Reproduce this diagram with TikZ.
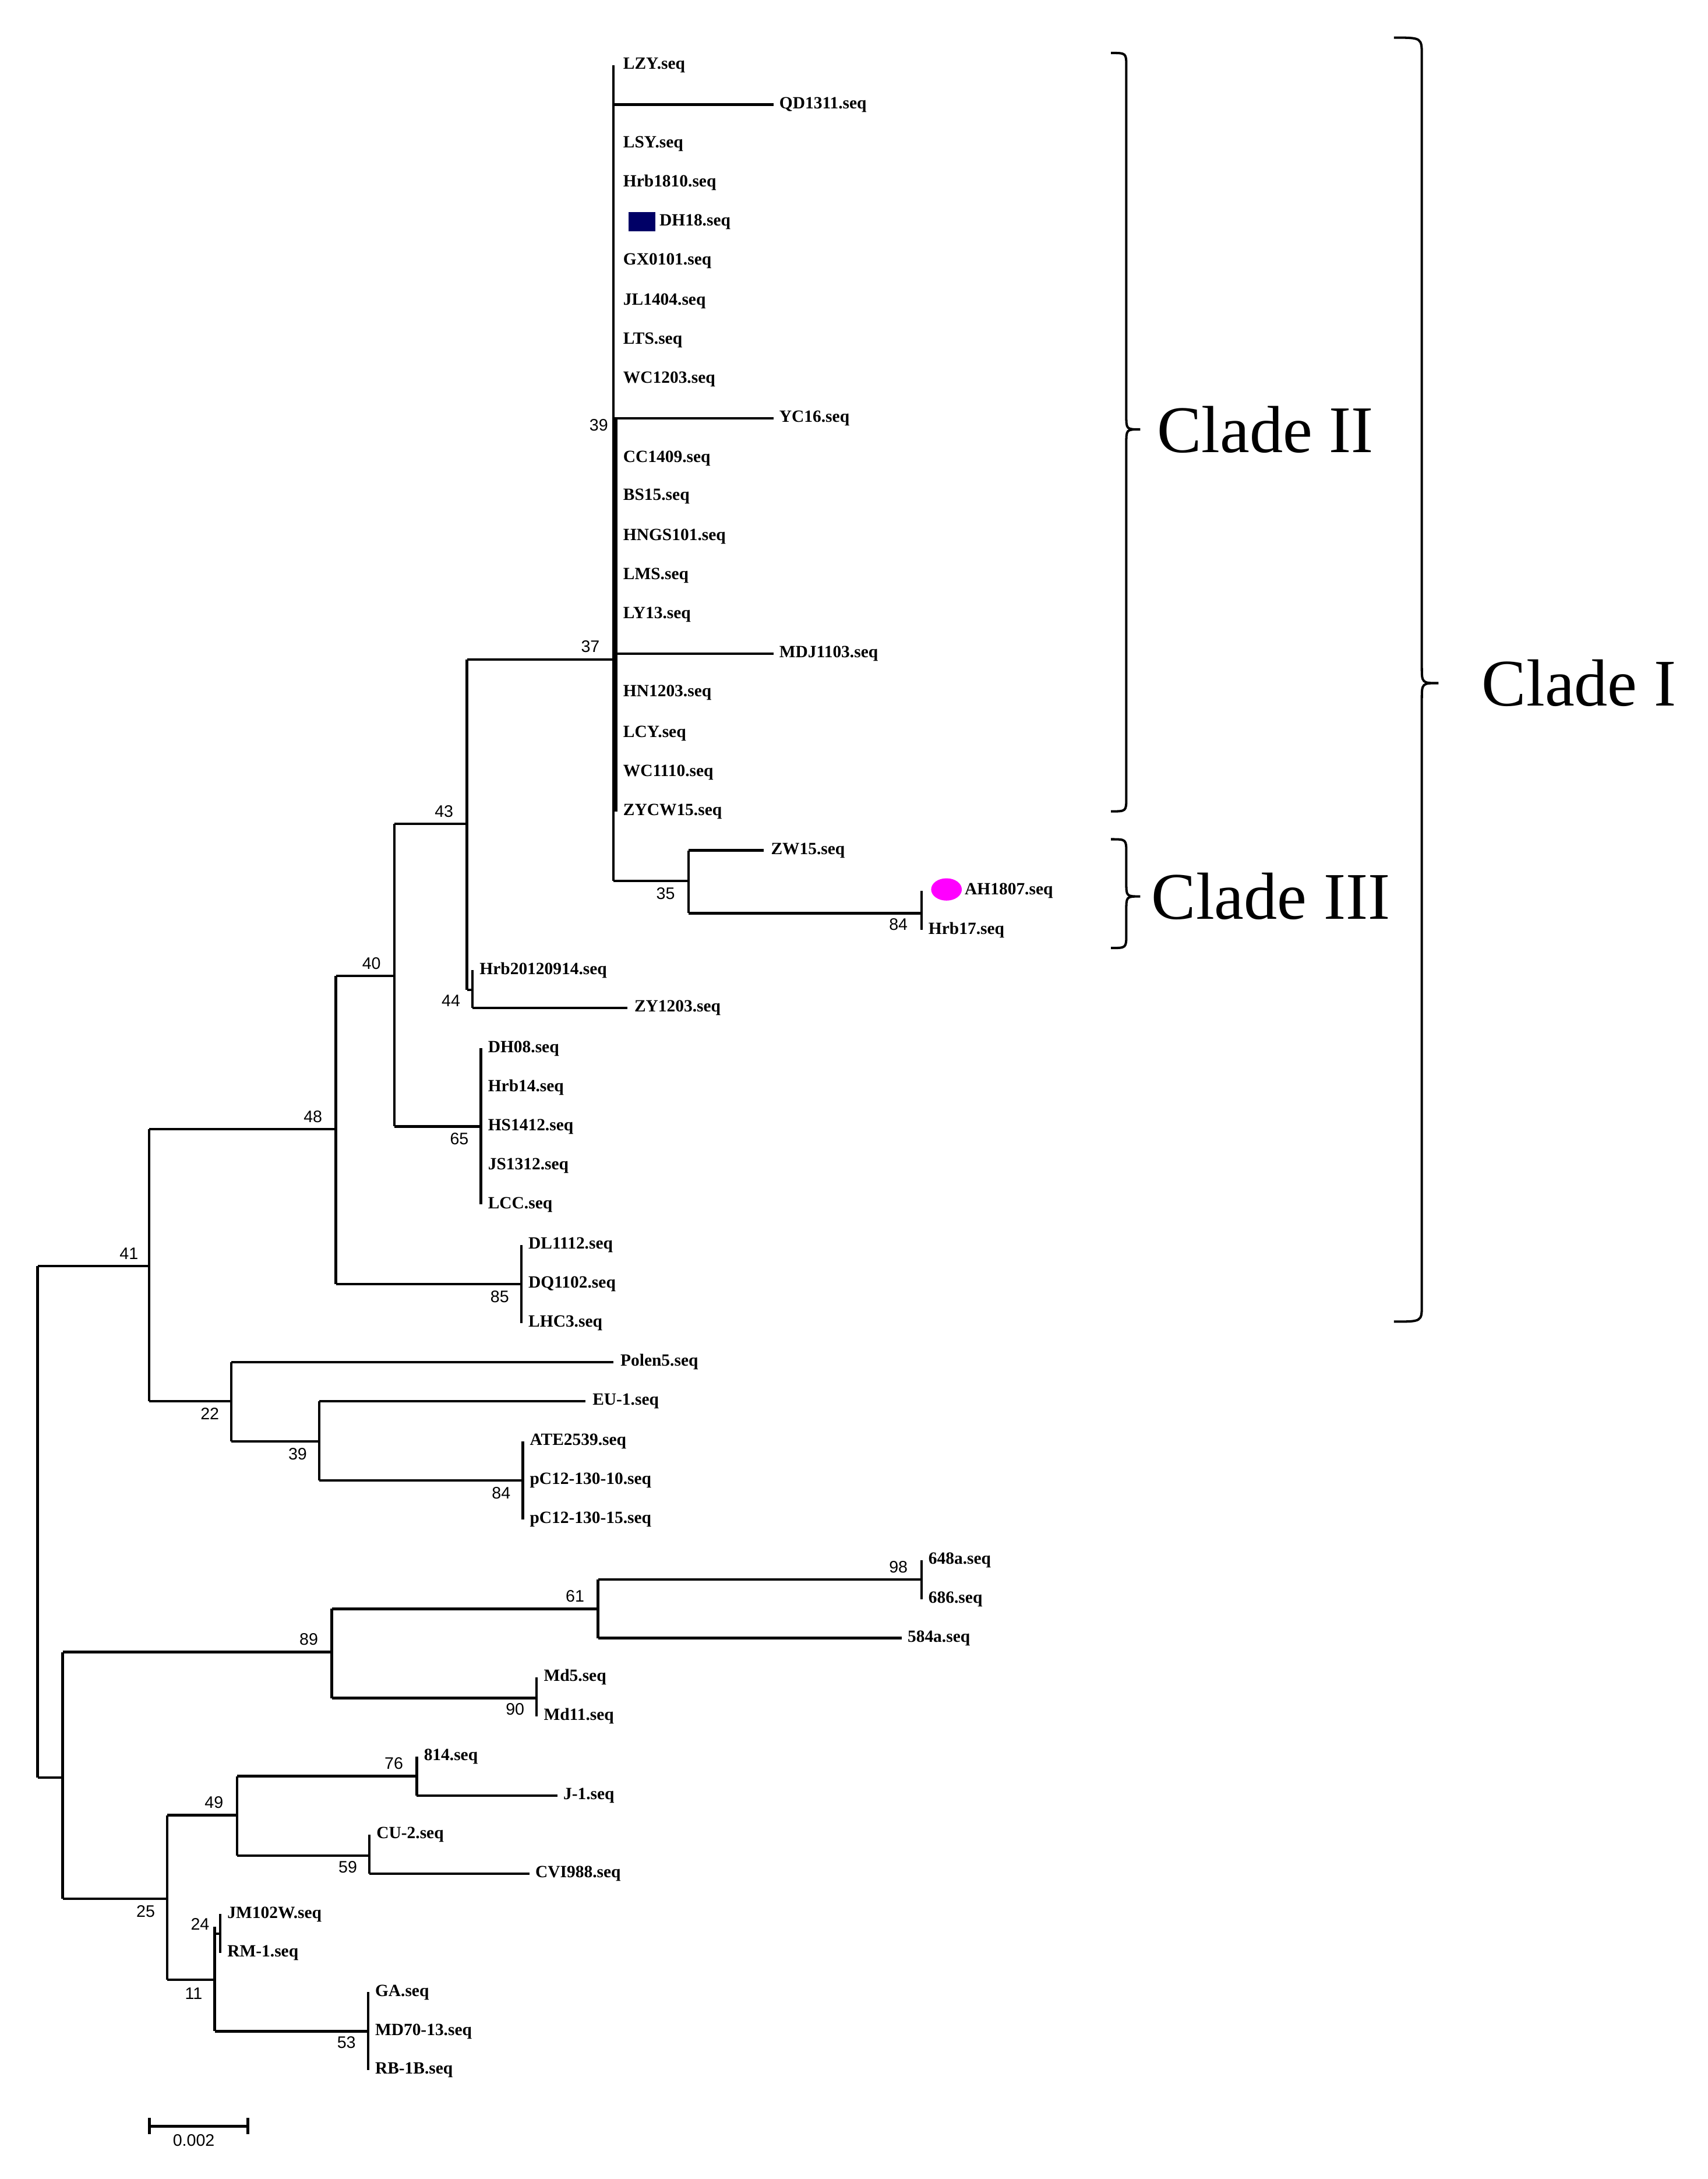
\documentclass[tikz,border=0pt]{standalone}
\usepackage{fontspec}
\setmainfont{Liberation Serif}
\newfontfamily\sansf{Liberation Sans}
\definecolor{mag}{RGB}{255,0,255}
\begin{document}
\begin{tikzpicture}[x=0.05cm,y=-0.05cm,
  br/.style={line width=2.6pt},
  lf/.style={anchor=west,inner sep=0pt,font=\fontsize{17.5}{17.5}\selectfont\bfseries},
  bs/.style={anchor=south east,inner sep=1pt,font=\fontsize{17}{17}\selectfont\sansf},
  bsb/.style={anchor=north east,inner sep=1pt,font=\fontsize{17}{17}\selectfont\sansf},
  cl/.style={anchor=west,inner sep=0pt,font=\fontsize{68}{68}\selectfont}]
\useasboundingbox (0,0) rectangle (1225,1563);
\newcommand\lv[3]{\node[lf] at (#1,#2) {#3};}
% root
\draw[br] (27,908)--(27,1275);
\draw[br] (27,908)--(107,908) (107,810)--(107,1005);
\node[bs] at (100,904) {41};
\draw[br] (107,810)--(241,810) (241,700)--(241,921);
\node[bs] at (232,806) {48};
\draw[br] (241,700)--(283,700) (283,591)--(283,808);
\node[bs] at (274,696) {40};
\draw[br] (283,591)--(335,591) (335,473)--(335,710);
\node[bs] at (326,587) {43};
\draw[br] (335,473)--(440,473) (440,47)--(440,632);
\node[bs] at (431,469) {37};
\draw[br] (442,300)--(442,582);
\node[bs] at (437,310) {39};
\foreach \y/\t in {47/LZY,103/LSY,131/Hrb1810,187/GX0101,216/JL1404,244/LTS,272/WC1203,329/CC1409,356/BS15,385/HNGS101,413/LMS,441/LY13,497/HN1203,526/LCY,554/WC1110,582/ZYCW15}
  {\node[lf] at (447,\y) {\t.seq};}
\node[lf] at (473,159) {DH18.seq};
\fill[blue!40!black] (451,152) rectangle (470,166);
\draw[br] (440,75)--(555,75); \lv{559}{75}{QD1311.seq}
\draw[br] (440,300)--(555,300); \lv{559}{300}{YC16.seq}
\draw[br] (440,469)--(555,469); \lv{559}{469}{MDJ1103.seq}
\draw[br] (440,632)--(494,632) (494,610)--(494,655);
\node[bsb] at (485,636) {35};
\draw[br] (494,610)--(548,610); \lv{553}{610}{ZW15.seq}
\draw[br] (494,655)--(661,655) (661,639)--(661,667);
\node[bsb] at (652,658) {84};
\fill[mag] (679,638) ellipse (11 and 8);
\lv{692}{639}{AH1807.seq} \lv{666}{667}{Hrb17.seq}
\draw[br] (335,710)--(339,710) (339,696)--(339,723);
\node[bsb] at (331,713) {44};
\lv{344}{696}{Hrb20120914.seq}
\draw[br] (339,723)--(450,723); \lv{455}{723}{ZY1203.seq}
\draw[br] (283,808)--(345,808) (345,752)--(345,864);
\node[bsb] at (337,812) {65};
\foreach \y/\t in {752/DH08,780/Hrb14,808/HS1412,836/JS1312,864/LCC} {\node[lf] at (350,\y) {\t.seq};}
\draw[br] (241,921)--(374,921) (374,893)--(374,949);
\node[bsb] at (366,925) {85};
\foreach \y/\t in {893/DL1112,921/DQ1102,949/LHC3} {\node[lf] at (379,\y) {\t.seq};}
\draw[br] (107,1005)--(166,1005) (166,977)--(166,1034);
\node[bsb] at (158,1009) {22};
\draw[br] (166,977)--(440,977); \lv{445}{977}{Polen5.seq}
\draw[br] (166,1034)--(229,1034) (229,1005)--(229,1062);
\node[bsb] at (221,1038) {39};
\draw[br] (229,1005)--(420,1005); \lv{425}{1005}{EU-1.seq}
\draw[br] (229,1062)--(375,1062) (375,1034)--(375,1090);
\node[bsb] at (367,1066) {84};
\foreach \y/\t in {1034/ATE2539,1062/pC12-130-10,1090/pC12-130-15} {\node[lf] at (380,\y) {\t.seq};}
% lower
\draw[br] (27,1275)--(45,1275) (45,1185)--(45,1362);
\draw[br] (45,1185)--(238,1185) (238,1154)--(238,1218);
\node[bs] at (229,1181) {89};
\draw[br] (238,1154)--(429,1154) (429,1133)--(429,1175);
\node[bs] at (420,1150) {61};
\draw[br] (429,1133)--(661,1133) (661,1119)--(661,1147);
\node[bs] at (652,1129) {98};
\lv{666}{1119}{648a.seq} \lv{666}{1147}{686.seq}
\draw[br] (429,1175)--(647,1175); \lv{651}{1175}{584a.seq}
\draw[br] (238,1218)--(385,1218) (385,1203)--(385,1231);
\node[bsb] at (377,1221) {90};
\lv{390}{1203}{Md5.seq} \lv{390}{1231}{Md11.seq}
\draw[br] (45,1362)--(120,1362) (120,1302)--(120,1420);
\node[bsb] at (112,1366) {25};
\draw[br] (120,1302)--(170,1302) (170,1274)--(170,1331);
\node[bs] at (161,1298) {49};
\draw[br] (170,1274)--(299,1274) (299,1260)--(299,1288);
\node[bs] at (290,1270) {76};
\lv{304}{1260}{814.seq}
\draw[br] (299,1288)--(400,1288); \lv{404}{1288}{J-1.seq}
\draw[br] (170,1331)--(265,1331) (265,1316)--(265,1344);
\node[bsb] at (257,1334) {59};
\lv{270}{1316}{CU-2.seq}
\draw[br] (265,1344)--(380,1344); \lv{384}{1344}{CVI988.seq}
\draw[br] (120,1420)--(154,1420) (154,1382)--(154,1457);
\node[bsb] at (146,1425) {11};
\draw[br] (154,1387)--(158,1387) (158,1373)--(158,1401);
\node[bs] at (151,1385) {24};
\lv{163}{1373}{JM102W.seq} \lv{163}{1401}{RM-1.seq}
\draw[br] (154,1457)--(264,1457) (264,1429)--(264,1485);
\node[bsb] at (256,1460) {53};
\foreach \y/\t in {1429/GA,1457/MD70-13,1485/RB-1B} {\node[lf] at (269,\y) {\t.seq};}
% scale
\draw[line width=3pt] (107,1525)--(178,1525) (107,1519)--(107,1531) (178,1519)--(178,1531);
\node[anchor=north,inner sep=1pt,font=\fontsize{17}{17}\selectfont\sansf] at (139,1530) {0.002};
% brackets
\draw[line width=2.4pt] (797,38) .. controls (808,38) .. (808,48) -- (808,298) .. controls (808,308) .. (818,308) .. controls (808,308) .. (808,318) -- (808,572) .. controls (808,582) .. (797,582);
\node[cl] at (830,308) {Clade II};
\draw[line width=2.4pt] (797,602) .. controls (808,602) .. (808,612) -- (808,633) .. controls (808,643) .. (818,643) .. controls (808,643) .. (808,653) -- (808,670) .. controls (808,680) .. (797,680);
\node[cl] at (826,643) {Clade III};
\draw[line width=2.4pt] (1000,27) .. controls (1020,27) .. (1020,40) -- (1020,478) .. controls (1020,490) .. (1032,490) .. controls (1020,490) .. (1020,502) -- (1020,936) .. controls (1020,948) .. (1000,948);
\node[cl] at (1063,490) {Clade I};
\end{tikzpicture}
\end{document}
